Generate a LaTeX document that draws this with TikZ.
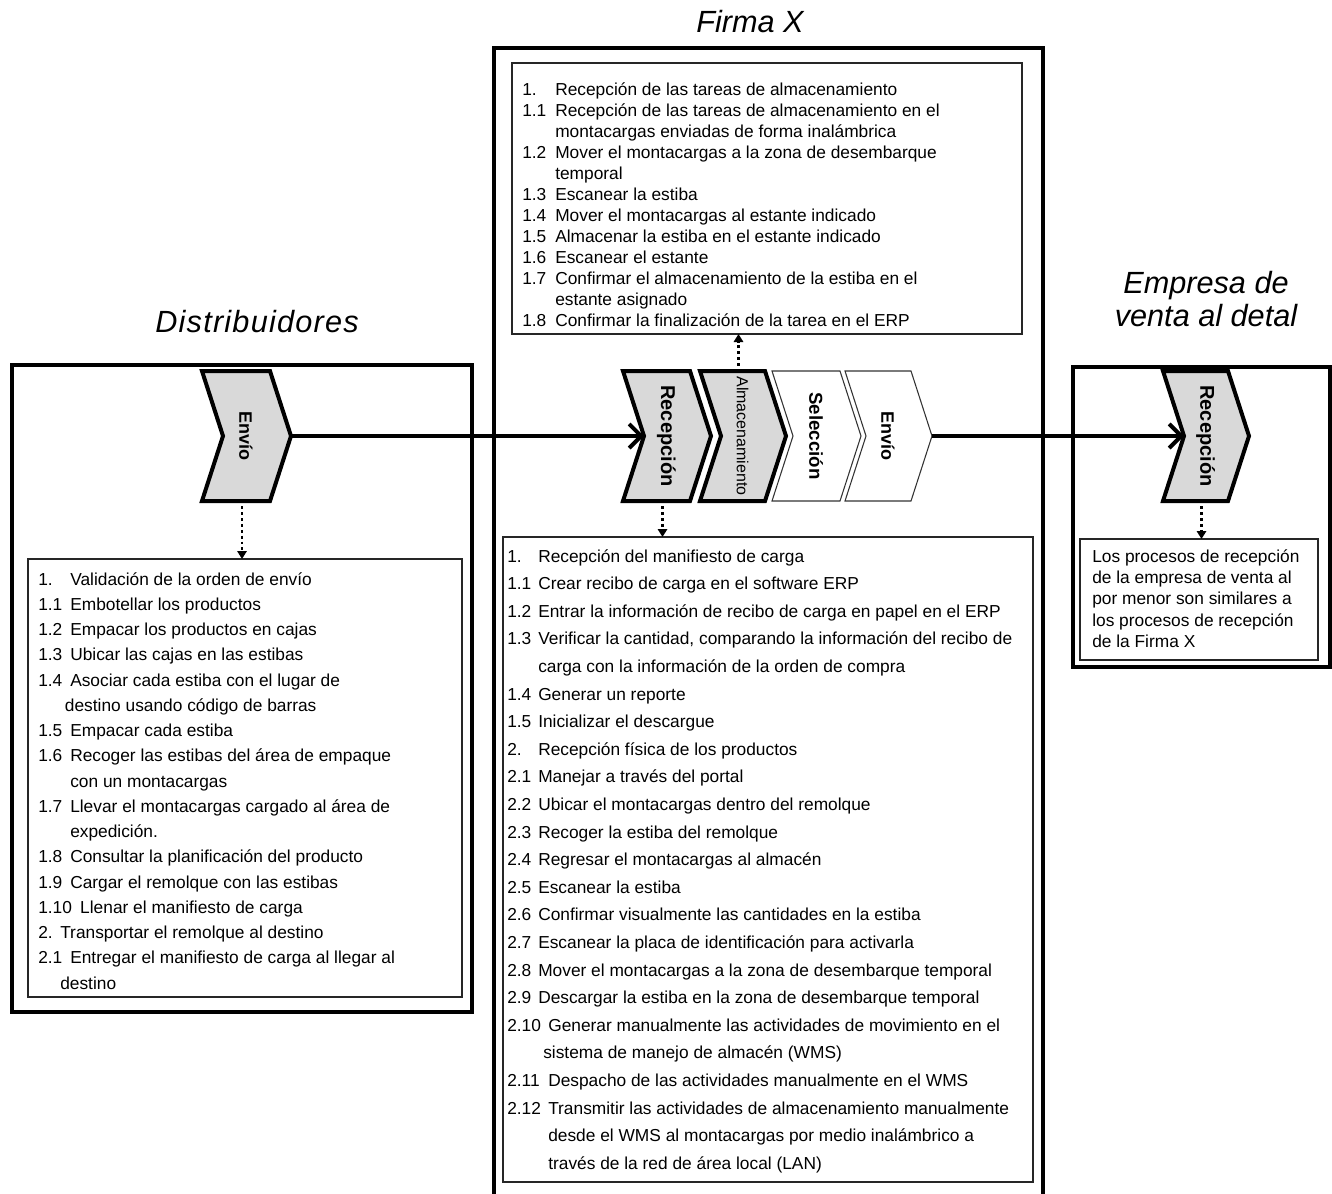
\documentclass[tikz,border=0pt]{standalone}
\usepackage{fontspec}
\setmainfont{Liberation Sans}
\usetikzlibrary{arrows.meta}
\newcommand{\numb}[2]{\makebox[#1][l]{#2}}
% #1 name, #2 left x, #3 body width, #4 path style, #5 label style, #6 label
\newcommand{\mychev}[6]{%
  \draw[#4] (#2,371) -- ++(#3,0) -- ++(21,65) -- ++(-21,65) -- ++(-#3,0) -- ++(21,-65) -- cycle;
  \coordinate (#1-tip) at ({#2+#3+21},436);
  \coordinate (#1-notch) at ({#2+21},436);
  \coordinate (#1-bot) at ({#2+#3/2+6},501);
  \coordinate (#1-top) at ({#2+#3/2+6},371);
  \node[chevlabel,#5] (#1) at ({#2+#3/2+10},436) {#6};
}
\begin{document}
\begin{tikzpicture}[x=0.75pt,y=-0.75pt,
  outerframe/.style={draw=black, line width=2.5pt, rectangle, anchor=north west, inner sep=0pt, outer sep=0pt},
  ibox/.style={draw=black!85, line width=1pt, fill=white, rectangle, anchor=north west, inner sep=0pt, outer sep=0pt},
  ttl/.style={font=\fontsize{23pt}{25pt}\selectfont\itshape, align=center, inner sep=0pt},
  gchev/.style={draw=black, line width=3pt, fill=black!15, line join=miter},
  wchev/.style={draw=black!80, line width=0.8pt, fill=white},
  chevlabel/.style={rotate=-90, inner sep=0pt},
  listtxt/.style={anchor=base west, inner sep=0pt},
  mainarrow/.style={line width=3pt, -{Straight Barb[length=9pt,width=18pt]}},
  dotarrow/.style={line width=2.2pt, dash pattern=on 2.2pt off 2.2pt, -{Triangle[length=6pt,width=7pt]}, shorten <=4pt}
]
\fill[white] (0,0) rectangle (1332,1193);
\useasboundingbox (0,0) rectangle (1332,1193);

% titles
\node[ttl] (tD) at (257,322) {\addfontfeatures{LetterSpace=4}Distribuidores};
\node[ttl] (tF) at (750,22) {Firma X};
\node[ttl] (tE) at (1206,299) {Empresa de\\venta al detal};

% outer frames
\node[outerframe, minimum width=345pt, minimum height=485.25pt] (frmD) at (12,365) {};
\node[outerframe, minimum width=411.75pt, minimum height=870pt] (frmF) at (494,48) {};
\node[outerframe, minimum width=192.75pt, minimum height=225pt] (frmE) at (1073,367) {};

% inner boxes
\node[ibox, minimum width=382.5pt, minimum height=203.25pt] (topbox) at (512,63) {};
\node[ibox, minimum width=325.5pt, minimum height=328.5pt] (lbox) at (28,559) {};
\node[ibox, minimum width=397.5pt, minimum height=483.75pt] (mbox) at (503,537) {};
\node[ibox, minimum width=178.5pt, minimum height=90.75pt] (rbox) at (1080,539) {};

% top box text
\node[listtxt, font=\fontsize{13pt}{15.8pt}\selectfont] (toptxt) at (522,95) {\begin{tabular}[t]{@{}l@{}}
\numb{24.75pt}{1.}Recepción de las tareas de almacenamiento\\
\numb{24.75pt}{1.1}Recepción de las tareas de almacenamiento en el\\
\hspace*{24.75pt}montacargas enviadas de forma inalámbrica\\
\numb{24.75pt}{1.2}Mover el montacargas a la zona de desembarque\\
\hspace*{24.75pt}temporal\\
\numb{24.75pt}{1.3}Escanear la estiba\\
\numb{24.75pt}{1.4}Mover el montacargas al estante indicado\\
\numb{24.75pt}{1.5}Almacenar la estiba en el estante indicado\\
\numb{24.75pt}{1.6}Escanear el estante\\
\numb{24.75pt}{1.7}Confirmar el almacenamiento de la estiba en el\\
\hspace*{24.75pt}estante asignado\\
\numb{24.75pt}{1.8}Confirmar la finalización de la tarea en el ERP
\end{tabular}};

% left box text
\node[listtxt, font=\fontsize{13pt}{18.94pt}\selectfont] (ltxt) at (38,585) {\begin{tabular}[t]{@{}l@{}}
\numb{24pt}{1.}Validación de la orden de envío\\
\numb{24pt}{1.1}Embotellar los productos\\
\numb{24pt}{1.2}Empacar los productos en cajas\\
\numb{24pt}{1.3}Ubicar las cajas en las estibas\\
\numb{24pt}{1.4}Asociar cada estiba con el lugar de\\
\hspace*{20pt}destino usando código de barras\\
\numb{24pt}{1.5}Empacar cada estiba\\
\numb{24pt}{1.6}Recoger las estibas del área de empaque\\
\hspace*{24pt}con un montacargas\\
\numb{24pt}{1.7}Llevar el montacargas cargado al área de\\
\hspace*{24pt}expedición.\\
\numb{24pt}{1.8}Consultar la planificación del producto\\
\numb{24pt}{1.9}Cargar el remolque con las estibas\\
\numb{31.5pt}{1.10}Llenar el manifiesto de carga\\
\numb{16.5pt}{2.}Transportar el remolque al destino\\
\numb{24pt}{2.1}Entregar el manifiesto de carga al llegar al\\
\hspace*{16.5pt}destino
\end{tabular}};

% middle box text
\node[listtxt, font=\fontsize{13pt}{20.7pt}\selectfont] (mtxt) at (507,562) {\begin{tabular}[t]{@{}l@{}}
\numb{23.25pt}{1.}Recepción del manifiesto de carga\\
\numb{23.25pt}{1.1}Crear recibo de carga en el software ERP\\
\numb{23.25pt}{1.2}Entrar la información de recibo de carga en papel en el ERP\\
\numb{23.25pt}{1.3}Verificar la cantidad, comparando la información del recibo de\\
\hspace*{23.25pt}carga con la información de la orden de compra\\
\numb{23.25pt}{1.4}Generar un reporte\\
\numb{23.25pt}{1.5}Inicializar el descargue\\
\numb{23.25pt}{2.}Recepción física de los productos\\
\numb{23.25pt}{2.1}Manejar a través del portal\\
\numb{23.25pt}{2.2}Ubicar el montacargas dentro del remolque\\
\numb{23.25pt}{2.3}Recoger la estiba del remolque\\
\numb{23.25pt}{2.4}Regresar el montacargas al almacén\\
\numb{23.25pt}{2.5}Escanear la estiba\\
\numb{23.25pt}{2.6}Confirmar visualmente las cantidades en la estiba\\
\numb{23.25pt}{2.7}Escanear la placa de identificación para activarla\\
\numb{23.25pt}{2.8}Mover el montacargas a la zona de desembarque temporal\\
\numb{23.25pt}{2.9}Descargar la estiba en la zona de desembarque temporal\\
\numb{30.75pt}{2.10}Generar manualmente las actividades de movimiento en el\\
\hspace*{27pt}sistema de manejo de almacén (WMS)\\
\numb{30.75pt}{2.11}Despacho de las actividades manualmente en el WMS\\
\numb{30.75pt}{2.12}Transmitir las actividades de almacenamiento manualmente\\
\hspace*{30.75pt}desde el WMS al montacargas por medio inalámbrico a\\
\hspace*{30.75pt}través de la red de área local (LAN)
\end{tabular}};

% right box text
\node[listtxt, font=\fontsize{13pt}{16.1pt}\selectfont] (rtxt) at (1092,562) {\begin{tabular}[t]{@{}l@{}}
Los procesos de recepción\\
de la empresa de venta al\\
por menor son similares a\\
los procesos de recepción\\
de la Firma X
\end{tabular}};

% chevrons
\mychev{envioL}{202}{68}{gchev}{font=\fontsize{13.5pt}{15pt}\selectfont\bfseries}{Envío}
\mychev{recep}{623}{67}{gchev}{font=\fontsize{15pt}{17pt}\selectfont\bfseries}{Recepción}
\mychev{alm}{700}{65}{gchev}{font=\fontsize{12pt}{14pt}\selectfont}{Almacenamiento}
\mychev{sel}{772}{68}{wchev}{font=\fontsize{14pt}{16pt}\selectfont\bfseries}{Selección}
\mychev{envioM}{845}{66}{wchev}{font=\fontsize{13.5pt}{15pt}\selectfont\bfseries}{Envío}
\mychev{erecep}{1163}{65}{gchev}{font=\fontsize{15pt}{17pt}\selectfont\bfseries}{Recepción}

% main flow arrows
\draw[mainarrow] (envioL-tip) -- (recep-notch);
\draw[mainarrow] (envioM-tip) -- (erecep-notch);

% dotted detail arrows
\draw[dotarrow] (envioL-bot) -- (envioL-bot |- lbox.north);
\draw[dotarrow] (recep-bot) -- (recep-bot |- mbox.north);
\draw[dotarrow] (alm-top) -- (alm-top |- topbox.south);
\draw[dotarrow] (erecep-bot) -- (erecep-bot |- rbox.north);
\end{tikzpicture}
\end{document}
